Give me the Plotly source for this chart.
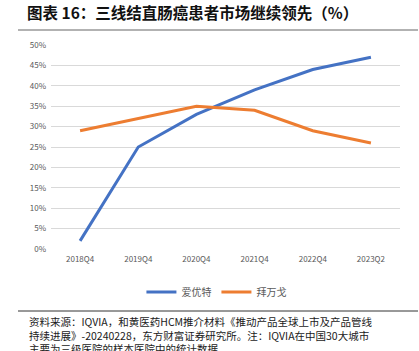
import plotly.graph_objects as go

categories = ["2018Q4", "2019Q4", "2020Q4", "2021Q4", "2022Q4", "2023Q2"]
fruzaqla = [2, 25, 33, 39, 44, 47]      # 爱优特
regorafenib = [29, 32, 35, 34, 29, 26]  # 拜万戈
series_names = ["爱优特", "拜万戈"]
y_ticks = [0, 5, 10, 15, 20, 25, 30, 35, 40, 45, 50]

W, H = 419, 351
L, R, T, B = 51, 19, 45, 102
pw, ph = W - L - R, H - T - B

def px(x):
    return (x - L) / pw

def py(y):
    return (H - B - y) / ph

CJK = "Noto Sans CJK SC"

fig = go.Figure()
fig.add_trace(go.Scatter(x=categories, y=fruzaqla, name=series_names[0], mode="lines",
                         line=dict(color="#4472C4", width=3)))
fig.add_trace(go.Scatter(x=categories, y=regorafenib, name=series_names[1], mode="lines",
                         line=dict(color="#ED7D31", width=3)))

fig.update_layout(
    width=W, height=H,
    margin=dict(l=L, r=R, t=T, b=B),
    paper_bgcolor="white", plot_bgcolor="white",
    font=dict(family=CJK, color="#595959"),
    showlegend=True,
    legend=dict(orientation="h", x=0.474, xanchor="center", y=py(292), yanchor="middle",
                font=dict(size=10, color="#595959", family=CJK),
                itemwidth=30, tracegroupgap=0, bgcolor="rgba(0,0,0,0)"),
    title=dict(text="<b>图表 16：三线结直肠癌患者市场继续领先（%）</b>",
               xref="container", yref="container", x=27 / W, xanchor="left",
               y=1 - 14 / H, yanchor="middle",
               font=dict(size=15.5, color="#111111", family=CJK)),
)
fig.update_xaxes(type="category", range=[-0.5, 5.5], showgrid=False, showline=False,
                 zeroline=False, ticks="", tickfont=dict(size=8, color="#595959"),
                 ticklabelstandoff=4)
fig.update_yaxes(range=[0, 50], tickvals=y_ticks, ticktext=[f"{v}%" for v in y_ticks],
                 showgrid=True, gridcolor="#d9d9d9", gridwidth=1, zeroline=False,
                 showline=False, ticks="", tickfont=dict(size=8, color="#595959"),
                 ticklabelstandoff=4)

# decorative rules
fig.add_shape(type="line", xref="paper", yref="paper", x0=px(18), x1=px(418),
              y0=py(30), y1=py(30), line=dict(color="#999999", width=1.6))
fig.add_shape(type="line", xref="paper", yref="paper", x0=px(18), x1=px(418),
              y0=py(311), y1=py(311), line=dict(color="#333333", width=1))

notes = [
    "资料来源：IQVIA，和黄医药HCM推介材料《推动产品全球上市及产品管线",
    "持续进展》-20240228，东方财富证券研究所。注：IQVIA在中国30大城市",
    "主要为三级医院的样本医院中的统计数据",
]
fig.add_annotation(text="<br>".join(notes), xref="paper", yref="paper", x=px(27), y=py(312),
                   xanchor="left", yanchor="top", align="left", showarrow=False,
                   font=dict(size=10.5, color="#1a1a1a", family=CJK))

fig.write_html("out.html")
